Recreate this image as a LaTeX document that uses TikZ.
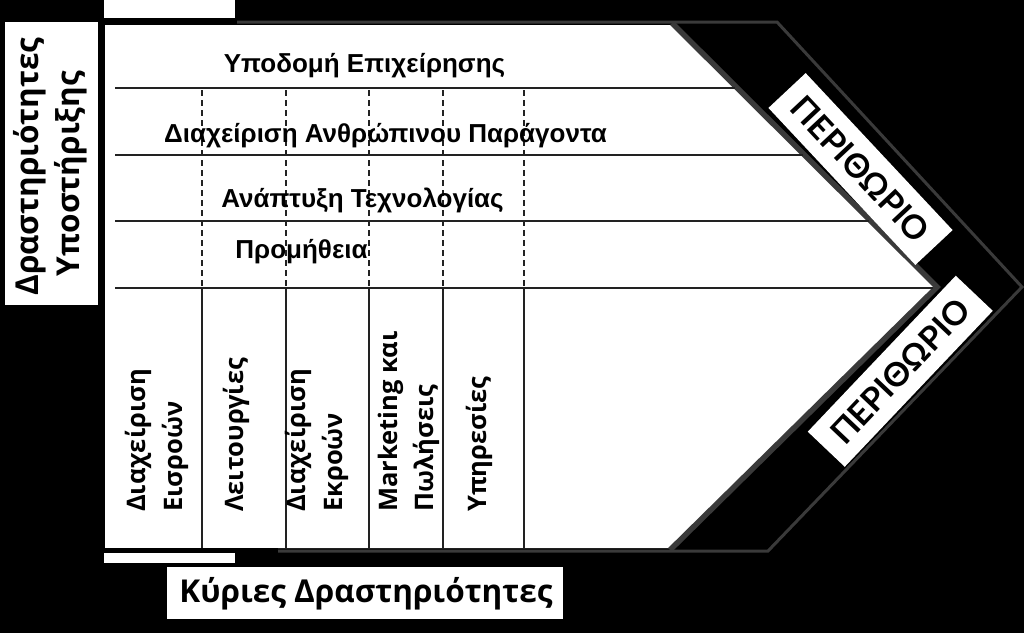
\documentclass[tikz,border=0pt]{standalone}
\usepackage{fontspec}
\setmainfont{Liberation Sans}
\newfontfamily\osans{Open Sans}
\newfontfamily\latof{Lato}
\definecolor{bordergray}{HTML}{3A3A3A}
\definecolor{linegray}{HTML}{222222}
\begin{document}
\begin{tikzpicture}[x=1pt,y=-1pt,
  mainlbl/.style={font=\bfseries\fontsize{26}{30}\selectfont, inner sep=0pt, anchor=base},
  collbl/.style={font=\osans\bfseries\fontsize{25.5}{32}\selectfont, inner sep=0pt, rotate=90, anchor=base west},
  boxlbl/.style={font=\osans\bfseries\fontsize{31.5}{36}\selectfont, inner sep=0pt, anchor=base},
  sidelbl/.style={font=\osans\bfseries\fontsize{31.5}{36}\selectfont, inner sep=0pt, rotate=90, anchor=base},
  perbox/.style={fill=white, inner sep=0pt, minimum width=215pt, minimum height=51pt,
    font=\latof\bfseries\fontsize{33}{36}\selectfont},
  hline/.style={draw=linegray, line width=1.3pt},
  dashln/.style={draw=linegray, line width=1.2pt, dash pattern=on 6pt off 4pt},
  vline/.style={draw=linegray, line width=1.3pt}]
\useasboundingbox (0,0) rectangle (1024,633);
\fill[black] (0,0) rectangle (1024,633);
% outer chevron outline
\draw[bordergray, line width=3pt, line join=miter] (105,22) -- (777,22) -- (1022,287) -- (768,551) -- (105,551);
% inner white value-chain shape
\fill[white] (105,25) -- (672,25) -- (937,287) -- (670,548) -- (105,548) -- cycle;
\draw[bordergray, line width=5.5pt, line join=miter] (672,23) -- (937,287) -- (670,550);
% black bars and white strips at the left end
\fill[black] (104,17) rectangle (237,25);
\fill[black] (104,547.5) rectangle (278,553);
\fill[white] (104,0) rectangle (235,18);
\fill[white] (104,552.5) rectangle (235,563);
% support activity rows
\draw[hline] (115,88) -- (735,88);
\draw[hline] (115,155) -- (803,155);
\draw[hline] (115,221) -- (869,221);
\draw[hline, line width=2.2pt] (115,288) -- (933,288);
% dashed columns in support rows, solid columns below
\foreach \xx in {202,286,369,443,524} {
  \draw[dashln] (\xx,90) -- (\xx,287);
  \draw[vline] (\xx,288) -- (\xx,548);
}
% support activities labels
\node[mainlbl] (infra) at (364.5,72) {Υποδομή Επιχείρησης};
\node[mainlbl] (hrm) at (385.5,142) {Διαχείριση Ανθρώπινου Παράγοντα};
\node[mainlbl] (tech) at (362.5,207) {Ανάπτυξη Τεχνολογίας};
\node[mainlbl] (proc) at (301.5,258) {Προμήθεια};
% primary activities labels
\node[collbl] (c1a) at (145,512) {Διαχείριση};
\node[collbl] (c1b) at (182,512) {Εισροών};
\node[collbl] (c2) at (243,512) {Λειτουργίες};
\node[collbl] (c3a) at (305,512) {Διαχείριση};
\node[collbl] (c3b) at (342,512) {Εκροών};
\node[collbl] (c4a) at (397,512) {Marketing και};
\node[collbl] (c4b) at (433,512) {Πωλήσεις};
\node[collbl] (c5) at (486,512) {Υπηρεσίες};
% side box
\fill[white] (5,22) rectangle (98,305);
\node[sidelbl] (side1) at (38,166.5) {Δραστηριότητες};
\node[sidelbl] (side2) at (79,173.5) {Υποστήριξης};
% bottom box
\fill[white] (167,567) rectangle (563,619);
\node[boxlbl] (primary) at (366,602) {Κύριες Δραστηριότητες};
% margin boxes
\node[perbox, rotate=-46.9] (m1) at (860.5,169) {ΠΕΡΙΘΩΡΙΟ};
\node[perbox, rotate=46.5] (m2) at (900.25,371.25) {ΠΕΡΙΘΩΡΙΟ};
\end{tikzpicture}
\end{document}
